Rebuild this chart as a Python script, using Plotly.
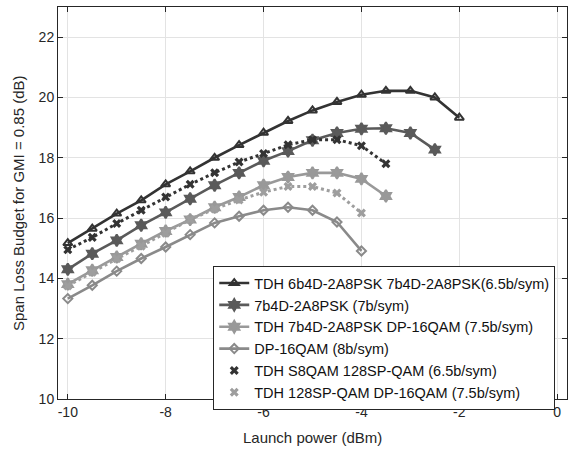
import plotly.graph_objects as go

x_all = [-10, -9.5, -9, -8.5, -8, -7.5, -7, -6.5, -6, -5.5, -5, -4.5, -4, -3.5, -3, -2.5, -2]

names = [
    "TDH 6b4D-2A8PSK 7b4D-2A8PSK(6.5b/sym)",
    "7b4D-2A8PSK (7b/sym)",
    "TDH 7b4D-2A8PSK DP-16QAM (7.5b/sym)",
    "DP-16QAM (8b/sym)",
    "TDH S8QAM 128SP-QAM (6.5b/sym)",
    "TDH 128SP-QAM DP-16QAM (7.5b/sym)",
]

y_tdh_6b7b = [15.17, 15.65, 16.15, 16.59, 17.12, 17.55, 18.0, 18.42, 18.83, 19.22, 19.57, 19.85, 20.09, 20.22, 20.22, 20.0, 19.33]
y_7b = [14.3, 14.82, 15.26, 15.76, 16.19, 16.64, 17.09, 17.5, 17.9, 18.22, 18.58, 18.82, 18.96, 18.98, 18.82, 18.27]
y_tdh_7b16 = [13.81, 14.27, 14.71, 15.15, 15.57, 15.95, 16.36, 16.7, 17.09, 17.36, 17.5, 17.5, 17.3, 16.73]
y_16qam = [13.33, 13.77, 14.24, 14.66, 15.04, 15.45, 15.84, 16.06, 16.26, 16.36, 16.26, 15.87, 14.91]
y_tdh_s8 = [14.95, 15.36, 15.82, 16.26, 16.7, 17.12, 17.5, 17.86, 18.14, 18.43, 18.6, 18.6, 18.4, 17.8]
y_tdh_128 = [13.75, 14.2, 14.65, 15.07, 15.5, 15.95, 16.3, 16.6, 16.86, 17.05, 17.05, 16.83, 16.17]

x_ticks = [-10, -8, -6, -4, -2, 0]
y_ticks = [10, 12, 14, 16, 18, 20, 22]

fig = go.Figure()

solid = [
    (y_tdh_6b7b, names[0], "#333333", "triangle-up-open", 8),
    (y_7b, names[1], "#5a5a5a", "hexagram", 9),
    (y_tdh_7b16, names[2], "#999999", "hexagram", 9),
    (y_16qam, names[3], "#8a8a8a", "diamond-open", 7),
]
for ys, nm, col, sym, sz in solid:
    fig.add_trace(go.Scatter(
        x=x_all[:len(ys)], y=ys, name=nm, mode="lines+markers",
        line=dict(color=col, width=2.6),
        marker=dict(symbol=sym, size=sz, color=col, line=dict(color=col, width=2)),
    ))

dotted = [
    (y_tdh_s8, names[4], "#333333"),
    (y_tdh_128, names[5], "#9e9e9e"),
]
for ys, nm, col in dotted:
    fig.add_trace(go.Scatter(
        x=x_all[:len(ys)], y=ys, mode="lines", showlegend=False,
        line=dict(color=col, width=3, dash="dot"),
    ))
    fig.add_trace(go.Scatter(
        x=x_all[:len(ys)], y=ys, name=nm, mode="markers",
        marker=dict(symbol="x", size=8, color=col, line=dict(width=0)),
    ))

axis_common = dict(
    showline=True, linecolor="#262626", linewidth=1, mirror="ticks",
    ticks="inside", ticklen=5, tickcolor="#262626",
    showgrid=True, gridcolor="#e3e3e3", gridwidth=1, zeroline=False,
    tickfont=dict(size=14, color="#262626"), automargin=False,
    ticklabeloverflow="allow",
)

fig.update_layout(
    width=570, height=452, autosize=False,
    margin=dict(l=58, r=3, t=7, b=53, autoexpand=False),
    paper_bgcolor="white", plot_bgcolor="white",
    font=dict(family="Liberation Sans, Arial, sans-serif", color="#262626"),
    xaxis=dict(range=[-10.2, 0.2], tickvals=x_ticks, ticktext=[str(v) for v in x_ticks], **axis_common),
    yaxis=dict(range=[10, 23], tickvals=y_ticks, ticktext=[str(v) for v in y_ticks], **axis_common),
    legend=dict(x=0.305, y=0.339, xanchor="left", yanchor="top",
                bgcolor="white", bordercolor="#262626", borderwidth=1,
                font=dict(size=14.5, color="#111111"), itemwidth=30,
                tracegroupgap=0, traceorder="normal"),
    annotations=[
        dict(text="Launch power (dBm)", xref="paper", yref="paper", x=0.5, y=-0.0,
             yshift=-38, xanchor="center", yanchor="middle", showarrow=False,
             font=dict(size=15, color="#262626")),
        dict(text="Span Loss Budget for GMI = 0.85 (dB)", xref="paper", yref="paper",
             x=0, y=0.5, xshift=-40, xanchor="center", yanchor="middle", textangle=-90,
             showarrow=False, font=dict(size=15, color="#262626")),
    ],
)

fig.write_html("out.html",
               config=dict(displayModeBar=False, responsive=False),
               post_script="document.body.style.margin='0';document.body.style.padding='0';document.body.style.overflow='hidden';")
